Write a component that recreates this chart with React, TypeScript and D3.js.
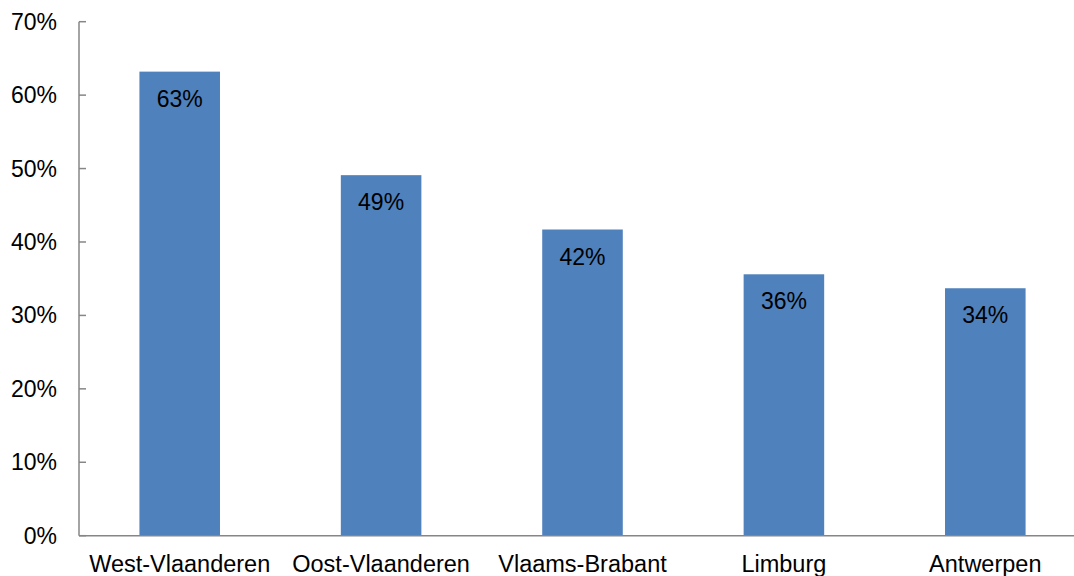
import React, { useEffect, useRef } from 'react';
import * as d3 from 'd3';

const provinces = ['West-Vlaanderen', 'Oost-Vlaanderen', 'Vlaams-Brabant', 'Limburg', 'Antwerpen'];
const shares = [0.632, 0.491, 0.417, 0.356, 0.337];
const yTicks = [0, 0.1, 0.2, 0.3, 0.4, 0.5, 0.6, 0.7];

export default function App() {
  const svgRef = useRef<SVGSVGElement>(null);

  useEffect(() => {
    const w = 1074;
    const h = 576;
    const left = 79;
    const right = 1086;
    const top = 21.7;
    const bottom = 535.7;
    const font = 'Arial, "Liberation Sans", sans-serif';

    const svg = d3.select(svgRef.current);
    svg.selectAll('*').remove();
    svg.attr('width', w).attr('height', h);

    const x = d3.scaleBand<string>().domain(provinces).range([left, right]).paddingInner(0.6).paddingOuter(0.3);
    const y = d3.scaleLinear().domain([0, 0.7]).range([bottom, top]);

    // bars
    svg.selectAll('rect.bar')
      .data(shares)
      .join('rect')
        .attr('class', 'bar')
        .attr('x', (d, i) => x(provinces[i])!)
        .attr('y', d => y(d))
        .attr('width', x.bandwidth())
        .attr('height', d => bottom - y(d))
        .attr('fill', '#4F81BD');

    // value labels
    svg.selectAll('text.val')
      .data(shares)
      .join('text')
        .attr('class', 'val')
        .attr('x', (d, i) => x(provinces[i])! + x.bandwidth() / 2)
        .attr('y', d => y(d) + 35)
        .attr('text-anchor', 'middle')
        .style('font-family', font)
        .style('font-size', '23px')
        .attr('fill', '#000')
        .text(d => `${Math.round(d * 100)}%`);

    // y axis
    const axisColor = '#868686';
    svg.append('line')
      .attr('x1', left).attr('x2', left)
      .attr('y1', top).attr('y2', bottom)
      .attr('stroke', axisColor).attr('stroke-width', 1.5);
    svg.selectAll('line.ytick')
      .data(yTicks)
      .join('line')
        .attr('class', 'ytick')
        .attr('x1', left).attr('x2', left + 7)
        .attr('y1', d => y(d)).attr('y2', d => y(d))
        .attr('stroke', axisColor).attr('stroke-width', 1.5);
    svg.selectAll('text.ylab')
      .data(yTicks)
      .join('text')
        .attr('class', 'ylab')
        .attr('x', 57)
        .attr('y', d => y(d) + 8)
        .attr('text-anchor', 'end')
        .style('font-family', font)
        .style('font-size', '23px')
        .attr('fill', '#000')
        .text(d => `${Math.round(d * 100)}%`);

    // x axis
    svg.append('line')
      .attr('x1', left).attr('x2', right)
      .attr('y1', bottom).attr('y2', bottom)
      .attr('stroke', axisColor).attr('stroke-width', 1.5);
    svg.selectAll('text.xlab')
      .data(provinces)
      .join('text')
        .attr('class', 'xlab')
        .attr('x', d => x(d)! + x.bandwidth() / 2)
        .attr('y', 572)
        .attr('text-anchor', 'middle')
        .style('font-family', font)
        .style('font-size', '23.5px')
        .attr('fill', '#000')
        .text(d => d);
  }, []);

  return (
    <div style={{ position: 'absolute', left: 0, top: 0, background: '#fff' }}>
      <svg ref={svgRef} style={{ display: 'block' }}></svg>
    </div>
  );
}
